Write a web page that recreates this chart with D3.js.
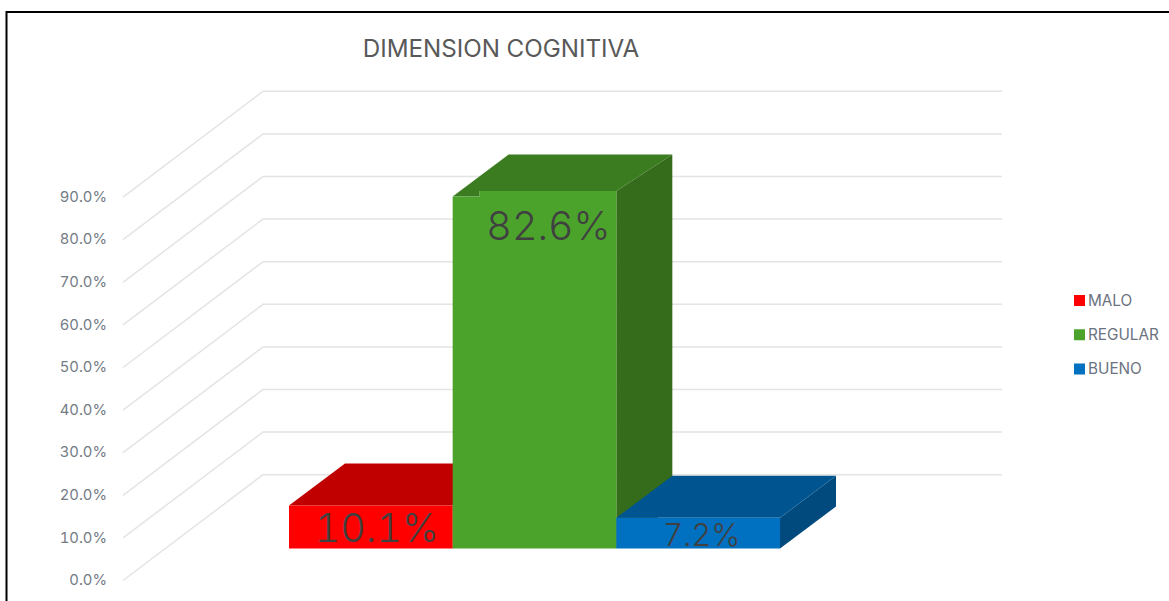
<!DOCTYPE html>
<html><head><meta charset="utf-8">
<script src="https://cdn.jsdelivr.net/npm/d3@7/dist/d3.min.js"></script>
<style>html,body{margin:0;padding:0;background:#fff;overflow:hidden}svg{display:block}text{font-family:Inter,sans-serif;font-variant-numeric:tabular-nums}</style>
</head><body><svg id="c" width="1169" height="601"></svg>
<script>
const titleText = "DIMENSION COGNITIVA";
const categories = ["MALO","REGULAR","BUENO"];
const values = [10.1,82.6,7.2];
const frontColors = ["#ff0000","#4ba32c","#0070c0"];
const topColors = ["#c00000","#3a7c1f","#005590"];
const sideColors = ["#a00000","#346c1b","#004a7e"];
const axisTicks = [0,10,20,30,40,50,60,70,80,90];
const labelSizes = [39.5,39.5,31];
const labelBaselines = [541.5,239.5,546];

const svg = d3.select("#c");
const M = {base:548.5, unit:4.26, left:289, right:780, depthX:56, depthY:42};
const y = d3.scaleLinear().domain([0,90]).range([M.base, M.base-90*M.unit]);
const x = d3.scaleBand().domain(categories).range([M.left,M.right]);
const wall = {frontX:123, backX:263, endX:1002, frontDy:32, backDy:-73.8};
const pct = d3.format(".1f");

// frame
svg.append("path").attr("d","M6.5,601V12H1169").attr("fill","none").attr("stroke","#000").attr("stroke-width",2);

// title
svg.append("text").attr("x",501).attr("y",57).attr("text-anchor","middle")
  .attr("font-size",24.2).attr("fill","#595959").text(titleText);

// gridlines
svg.append("g").selectAll("path").data(axisTicks).join("path")
  .attr("d",t=>`M${wall.frontX},${y(t)+wall.frontDy}L${wall.backX},${y(t)+wall.backDy}H${wall.endX}`)
  .attr("fill","none").attr("stroke","#e4e4e4").attr("stroke-width",1.5);

// axis
const axisG = svg.append("g").attr("transform",`translate(107,${wall.frontDy-0.5})`)
  .call(d3.axisLeft(y).tickValues(axisTicks).tickSize(0).tickPadding(0).tickFormat(t=>pct(t)+"%"));
axisG.select(".domain").remove();
axisG.selectAll("text").attr("font-size",14.8).attr("fill","#737b85").style("font-family",'Inter,sans-serif');

// bars: red, green, then blue (its top overlaps the green side)
const notch = {1:{x:27,y:5.5}};
function drawBar(i){
  const c = categories[i], x0=x(c), x1=x0+x.bandwidth(), yt=y(values[i]), n=notch[i];
  const dx=M.depthX, dy=M.depthY;
  const g=svg.append("g");
  const backY = yt-dy;
  const rightTop = n? yt-n.y : yt;
  g.append("polygon").attr("fill",sideColors[i])
    .attr("points",[[x1,rightTop],[x1+dx,backY],[x1+dx,M.base-dy],[x1,M.base]].join(" "));
  const topPts = n ? [[x0,yt],[x0+dx,backY],[x1+dx,backY],[x1,rightTop],[x0+n.x,rightTop],[x0+n.x,yt]]
                   : [[x0,yt],[x0+dx,backY],[x1+dx,backY],[x1,yt]];
  g.append("polygon").attr("fill",topColors[i]).attr("points",topPts.join(" "));
  const frontPts = n ? [[x0,yt],[x0+n.x,yt],[x0+n.x,rightTop],[x1,rightTop],[x1,M.base],[x0,M.base]]
                     : [[x0,yt],[x1,yt],[x1,M.base],[x0,M.base]];
  g.append("polygon").attr("fill",frontColors[i]).attr("points",frontPts.join(" "));
}
[0,1,2].forEach(drawBar);

// data labels
svg.append("g").selectAll("text").data(values).join("text")
  .attr("x",(d,i)=>x(categories[i])+x.bandwidth()/2+[6,14,3.5][i])
  .attr("y",(d,i)=>labelBaselines[i])
  .attr("text-anchor","middle").attr("fill","#404040").attr("font-weight",300)
  .attr("font-size",(d,i)=>labelSizes[i])
  .text(d=>pct(d)+"%");

// legend
const legendY = d3.scalePoint().domain(categories).range([300.5,369]);
const leg = svg.append("g").selectAll("g").data(categories).join("g")
  .attr("transform",c=>`translate(1074,${legendY(c)})`);
leg.append("rect").attr("x",0).attr("y",-5.5).attr("width",11).attr("height",11)
  .attr("fill",(c,i)=>frontColors[i]);
leg.append("text").attr("x",14).attr("y",5.2).attr("font-size",15.3).attr("fill","#6b7280").text(c=>c);
</script></body></html>
